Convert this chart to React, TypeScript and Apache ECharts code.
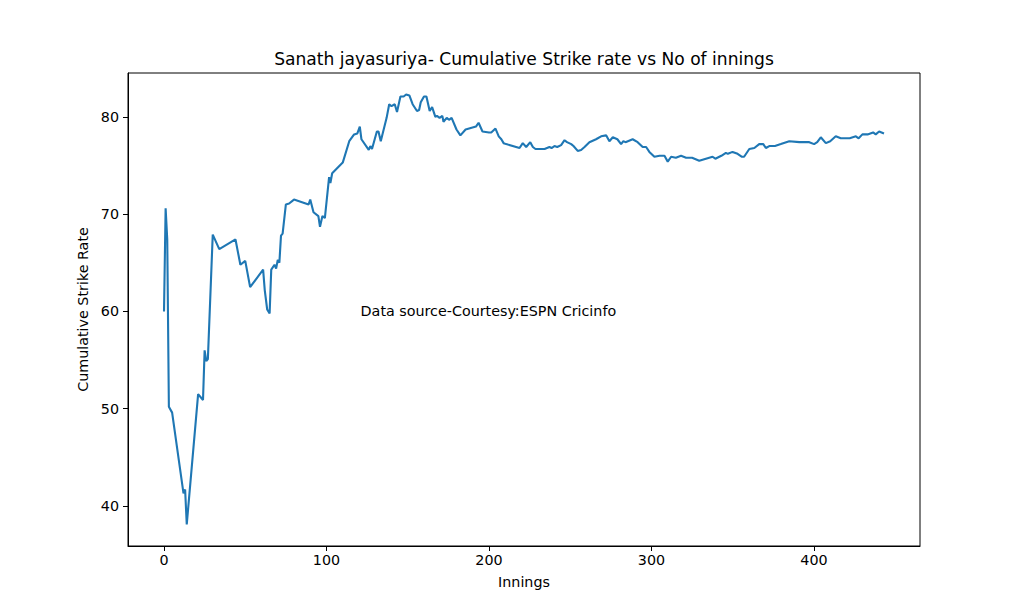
import React, { useEffect, useRef } from "react";
import * as echarts from "echarts";

const titleText = "Sanath jayasuriya- Cumulative Strike rate vs No of innings";
const xName = "Innings";
const yName = "Cumulative Strike Rate";
const noteText = "Data source-Courtesy:ESPN Cricinfo";
const notePos = [121, 60];

const xTicks = [0, 100, 200, 300, 400];
const yTicks = [40, 50, 60, 70, 80];

const innings = [
  0, 1, 2, 3, 5, 12, 13, 14, 21, 24, 25, 26, 27, 30, 34, 44, 47, 50, 53, 61, 62, 63.5, 65, 66, 68, 69, 70, 71, 72, 73,
  75, 77, 80, 89, 90, 92, 95, 96, 97.5, 99, 101.6, 102.4, 103.5, 110, 114, 117, 119, 120.5, 121.5, 126, 127, 128,
  131, 132, 133.4, 137, 138.6, 140, 142, 143.4, 145.5, 147.5, 149, 151, 153, 155.7, 157, 158, 160, 161.5, 163.5,
  165, 167, 168, 169.6, 171.3, 172, 174, 175.4, 177, 180, 182.4, 185.6, 192, 193.6, 196, 200, 201.4, 204, 206,
  207.6, 209, 210.6, 218.8, 220.8, 222.9, 225.4, 227, 228.6, 234.2, 237.2, 238.5, 240.3, 242, 244.4, 246.5, 248,
  250.6, 252, 254.6, 256.7, 258.8, 261.8, 265.9, 269, 272.1, 274.1, 276.2, 279, 281.3, 282.7, 284, 288.4, 291.5,
  294.6, 296.7, 298.7, 301.8, 305, 308, 310, 312.1, 315, 318.2, 321.3, 325, 329.4, 333.5, 337.6, 339.3, 343, 345.8,
  347, 349.9, 353, 355.7, 357, 360.2, 363.3, 366.3, 368.8, 370.4, 372.5, 376, 379.6, 384.8, 391, 397.1, 400.1, 402,
  404.2, 407.3, 410, 413.4, 416.5, 419, 422, 425.8, 427.5, 429.8, 433, 436.4, 438, 440.1, 443.1,
];

const strikeRate = [
  60.0, 70.6, 67.4, 50.2, 49.6, 41.3, 41.7, 38.1, 51.5, 50.9, 56.0, 54.9, 55.1, 67.9, 66.4, 67.4, 64.8, 65.2, 62.5,
  64.3, 62.2, 60.2, 59.8, 64.3, 64.8, 64.4, 65.3, 65.0, 67.8, 68.0, 71.0, 71.1, 71.5, 71.0, 71.5, 70.2, 69.8, 68.7,
  69.8, 69.6, 73.8, 73.2, 74.2, 75.3, 77.5, 78.2, 78.3, 79.0, 77.7, 76.6, 77.0, 76.7, 78.5, 78.5, 77.5, 79.9, 81.3,
  81.1, 81.3, 80.5, 82.1, 82.1, 82.3, 82.2, 81.3, 80.6, 80.7, 81.5, 82.1, 82.1, 80.6, 81.0, 80.0, 80.1, 79.9, 80.1,
  79.5, 79.9, 79.7, 79.9, 78.7, 78.1, 78.7, 79.0, 79.4, 78.5, 78.4, 78.4, 78.8, 78.0, 77.7, 77.3, 77.2, 76.8, 77.3,
  76.9, 77.4, 76.9, 76.7, 76.7, 76.9, 76.8, 77.0, 76.9, 77.1, 77.6, 77.4, 77.2, 77.0, 76.5, 76.6, 76.9, 77.4, 77.7,
  78.0, 78.1, 77.5, 77.9, 77.7, 77.2, 77.5, 77.4, 77.7, 77.4, 76.9, 76.9, 76.4, 75.9, 76.0, 76.0, 75.4, 75.9, 75.8,
  76.0, 75.8, 75.8, 75.5, 75.7, 75.9, 75.7, 76.0, 76.3, 76.2, 76.4, 76.2, 75.9, 75.9, 76.7, 76.8, 77.2, 77.2, 76.8,
  77.0, 77.0, 77.2, 77.5, 77.4, 77.4, 77.2, 77.4, 77.9, 77.3, 77.5, 78.0, 77.8, 77.8, 77.8, 78.0, 77.8, 78.2, 78.2,
  78.4, 78.2, 78.5, 78.3,
];

const FONT = "DejaVu Sans";
const TICK_FS = 14.3;
const TITLE_FS = 17.1;

export default function App() {
  const ref = useRef<HTMLDivElement>(null);
  useEffect(() => {
    document.body.style.margin = "0";
    const chart = echarts.init(ref.current!, null, { renderer: "svg" });
    const data = innings.map((x, i) => [x, strikeRate[i]]);
    const xr = [Math.min(...innings), Math.max(...innings)];
    const yr = [Math.min(...strikeRate), Math.max(...strikeRate)];
    const xpad = (xr[1] - xr[0]) * 0.05;
    const ypad = (yr[1] - yr[0]) * 0.05;
    chart.setOption({
      animation: false,
      backgroundColor: "#ffffff",
      title: {
        text: titleText,
        left: 519,
        top: 45,
        textAlign: "center",
        textStyle: { fontFamily: FONT, fontSize: TITLE_FS, fontWeight: "normal", color: "#000" },
      },
      grid: {
        left: 128,
        right: 103,
        top: 73,
        bottom: 68,
        show: true,
        borderColor: "#000",
        borderWidth: 1,
        backgroundColor: "transparent",
      },
      xAxis: {
        type: "value",
        min: xr[0] - xpad,
        max: xr[1] + xpad,
        name: xName,
        nameLocation: "middle",
        nameGap: 29,
        nameTextStyle: { fontFamily: FONT, fontSize: TICK_FS, color: "#000" },
        axisLine: { show: true, onZero: false, lineStyle: { color: "#000", width: 1 } },
        axisTick: { show: true, inside: false, length: 5, lineStyle: { color: "#000" }, customValues: xTicks },
        axisLabel: { fontFamily: FONT, fontSize: TICK_FS, color: "#000", margin: 7, customValues: xTicks },
        splitLine: { show: false },
      },
      yAxis: {
        type: "value",
        min: yr[0] - ypad,
        max: yr[1] + ypad,
        name: yName,
        nameLocation: "middle",
        nameGap: 38,
        nameTextStyle: { fontFamily: FONT, fontSize: TICK_FS, color: "#000" },
        axisLine: { show: true, onZero: false, lineStyle: { color: "#000", width: 1 } },
        axisTick: { show: true, inside: false, length: 5, lineStyle: { color: "#000" }, customValues: yTicks },
        axisLabel: { fontFamily: FONT, fontSize: TICK_FS, color: "#000", margin: 9, customValues: yTicks },
        splitLine: { show: false },
      },
      series: [
        {
          type: "line",
          data,
          showSymbol: false,
          symbol: "none",
          lineStyle: { color: "#1f77b4", width: 2.1 },
          markPoint: {
            silent: true,
            symbol: "circle",
            symbolSize: 0,
            data: [
              {
                coord: notePos,
                label: {
                  show: true,
                  position: "right",
                  distance: 0,
                  formatter: noteText,
                  fontFamily: FONT,
                  fontSize: TICK_FS,
                  color: "#000",
                },
              },
            ],
          },
        },
      ],
    });
    return () => chart.dispose();
  }, []);
  return <div ref={ref} style={{ width: 1023, height: 614 }} />;
}
